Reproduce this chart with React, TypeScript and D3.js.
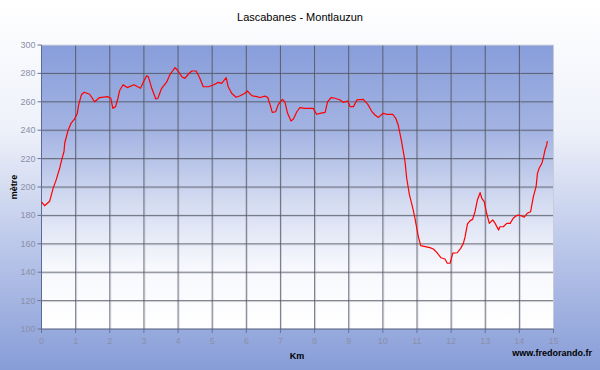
import React from "react";
import * as d3 from "d3";

const title = "Lascabanes - Montlauzun";
const xLabel = "Km";
const yLabel = "mètre";
const credit = "www.fredorando.fr";
const xTicks = [0, 1, 2, 3, 4, 5, 6, 7, 8, 9, 10, 11, 12, 13, 14, 15];
const yTicks = [100, 120, 140, 160, 180, 200, 220, 240, 260, 280, 300];

const km = [
  0.0, 0.09, 0.24, 0.34, 0.43, 0.53, 0.6, 0.66, 0.68, 0.73, 0.78, 0.87, 0.97, 1.05, 1.09, 1.17, 1.25, 1.41, 1.56, 1.7,
  1.95, 2.03, 2.09, 2.17, 2.24, 2.29, 2.39, 2.51, 2.71, 2.9, 3.0, 3.08, 3.13, 3.23, 3.35, 3.41, 3.52, 3.67, 3.76, 3.86,
  3.91, 3.98, 4.11, 4.2, 4.3, 4.4, 4.53, 4.62, 4.74, 4.89, 5.03, 5.18, 5.28, 5.41, 5.47, 5.57, 5.7, 5.82, 5.96, 6.03,
  6.16, 6.31, 6.4, 6.55, 6.63, 6.7, 6.76, 6.86, 6.94, 7.06, 7.13, 7.21, 7.31, 7.38, 7.48, 7.57, 7.72, 7.96, 8.06, 8.16,
  8.31, 8.38, 8.48, 8.6, 8.75, 8.84, 8.97, 9.04, 9.14, 9.24, 9.43, 9.56, 9.67, 9.77, 9.87, 10.01, 10.11, 10.29, 10.38, 10.45,
  10.55, 10.65, 10.7, 10.78, 10.88, 10.94, 11.04, 11.11, 11.24, 11.38, 11.48, 11.58, 11.7, 11.82, 11.89, 11.97, 12.05, 12.18, 12.28, 12.36,
  12.41, 12.48, 12.56, 12.63, 12.7, 12.77, 12.85, 12.9, 12.97, 13.04, 13.12, 13.22, 13.29, 13.39, 13.43, 13.53, 13.63, 13.73, 13.82, 13.9,
  13.96, 14.07, 14.14, 14.23, 14.33, 14.41, 14.49, 14.53, 14.58, 14.66, 14.7, 14.75, 14.8, 14.82,
];
const elevation = [
  189.5, 186.8, 190, 199, 205, 213, 220, 225, 231, 235.4, 240, 245, 248, 252, 258, 265, 266.7, 265.3, 260, 263,
  263.6, 262.5, 255.4, 256.6, 262.5, 268, 272, 270, 272, 269.5, 274.6, 278.4, 277.7, 269.5, 262, 262.5, 269.5, 274, 279, 282.4,
  284, 282.4, 277.7, 276.5, 279.4, 281.7, 281.7, 277.7, 270.6, 270.6, 271.8, 273.7, 273, 277, 270.6, 266, 263.2, 264.3, 266, 267.6,
  264.3, 263.6, 263, 264, 263, 257.7, 252.6, 253, 258.2, 261.7, 260, 251.9, 246.5, 247.9, 253, 255.9, 255.4, 255.4, 251.2, 251.9,
  252.6, 260, 263, 262.5, 261.3, 259.6, 260.6, 256.6, 256.6, 261.3, 261.7, 258.2, 253.5, 250.7, 249, 251.9, 251.2, 251.2, 248.4, 243.7,
  231.9, 217.8, 206, 194.4, 185, 178, 165, 158.7, 158, 157.3, 156.3, 154, 150.2, 149.3, 146.3, 146.3, 153.5, 153.7, 156.8, 160.3,
  165, 174, 176.3, 177.2, 182.6, 190.8, 196, 192, 189.7, 181.5, 174.4, 176.8, 174.4, 169.7, 172, 172, 174.4, 174.4, 178, 179.6,
  180.3, 179.6, 178.7, 181.5, 182.6, 193.2, 200.2, 209.6, 213.2, 216.7, 220.2, 226, 229.6, 232.4,
];

const W = 600;
const H = 370;
const L = 41.5;
const R = 553.5;
const T = 45;
const B = 329;

export default function App() {
  const x = d3.scaleLinear().domain([0, 15]).range([L, R]);
  const y = d3.scaleLinear().domain([100, 300]).range([B, T]);
  const pts: [number, number][] = km.map((k, i) => [k, elevation[i]]);
  const line = d3
    .line<[number, number]>()
    .x((d) => x(d[0]))
    .y((d) => y(d[1]))(pts) as string;

  return (
    <svg
      width={W}
      height={H}
      style={{ position: "absolute", left: 0, top: 0, display: "block" }}
      fontFamily="'Liberation Sans', Arial, sans-serif"
    >
      <defs>
        <linearGradient id="outerBg" x1="0" y1="0" x2="0" y2="1">
          <stop offset="0" stopColor="#ffffff" />
          <stop offset="0.35" stopColor="#eef1fa" />
          <stop offset="0.7" stopColor="#b6c3e8" />
          <stop offset="1" stopColor="#879dd8" />
        </linearGradient>
        <linearGradient id="plotBg" x1="0" y1="0" x2="0" y2="1">
          <stop offset="0" stopColor="#889edb" />
          <stop offset="0.3" stopColor="#a3b3e2" />
          <stop offset="0.55" stopColor="#d3dbf1" />
          <stop offset="0.78" stopColor="#f7f8fd" />
          <stop offset="1" stopColor="#ffffff" />
        </linearGradient>
      </defs>
      <rect x={0} y={0} width={W} height={H} fill="url(#outerBg)" />
      <rect x={L} y={T} width={R - L} height={B - T} fill="url(#plotBg)" />

      {/* grid */}
      {yTicks.slice(1, -1).map((v) => (
        <g key={"h" + v}>
          <line x1={L} x2={R} y1={y(v) + 1} y2={y(v) + 1} stroke="#9aa0b0" strokeOpacity={0.4} />
          <line x1={L} x2={R} y1={y(v)} y2={y(v)} stroke="#3e4250" strokeOpacity={0.7} />
        </g>
      ))}
      {xTicks.slice(1, -1).map((v) => (
        <g key={"v" + v}>
          <line x1={x(v) + 1} x2={x(v) + 1} y1={T} y2={B} stroke="#9aa0b0" strokeOpacity={0.4} />
          <line x1={x(v)} x2={x(v)} y1={T} y2={B} stroke="#3e4250" strokeOpacity={0.7} />
        </g>
      ))}

      {/* border */}
      <line x1={L} x2={R} y1={T} y2={T} stroke="#d8d8d8" />
      <line x1={R} x2={R} y1={T} y2={B} stroke="#c8ccd8" />
      <line x1={L} x2={L} y1={T} y2={B} stroke="#5a6a9a" />
      <line x1={L} x2={R} y1={B} y2={B} stroke="#505a7a" />

      {/* ticks */}
      {yTicks.map((v) => (
        <g key={"yt" + v}>
          <line x1={L - 4} x2={L} y1={y(v)} y2={y(v)} stroke="#6a7090" />
          <text x={L - 6} y={y(v) + 3} textAnchor="end" fontSize={9} fill="#8a90a8">
            {v}
          </text>
        </g>
      ))}
      {xTicks.map((v) => (
        <g key={"xt" + v}>
          <line x1={x(v)} x2={x(v)} y1={B} y2={B + 4} stroke="#6a7090" />
          <text x={x(v)} y={B + 15} textAnchor="middle" fontSize={9} fill="#8a90a8">
            {v}
          </text>
        </g>
      ))}

      {/* line */}
      <path d={line} fill="none" stroke="#ff0000" strokeWidth={1.2} strokeLinejoin="round" />

      {/* texts */}
      <text x={300} y={21} textAnchor="middle" fontSize={11} fill="#000">
        {title}
      </text>
      <text x={297} y={359} textAnchor="middle" fontSize={9} fontWeight="bold" fill="#000">
        {xLabel}
      </text>
      <text transform="translate(17,187) rotate(-90)" textAnchor="middle" fontSize={9} fontWeight="bold" fill="#000">
        {yLabel}
      </text>
      <text x={592} y={356} textAnchor="end" fontSize={9} fontWeight="bold" fill="#000">
        {credit}
      </text>
    </svg>
  );
}
